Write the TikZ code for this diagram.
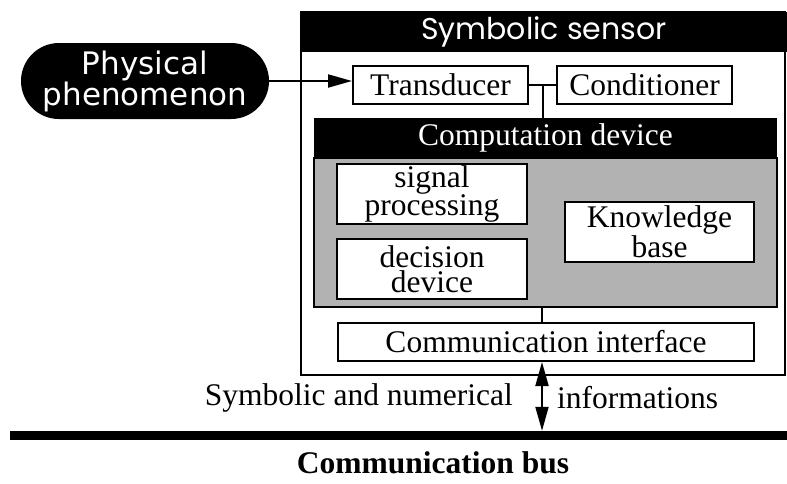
\documentclass[tikz,border=0pt]{standalone}
\usepackage{fontspec}
\setmainfont{Liberation Serif}
\newfontfamily\sensorfont{Poppins}
\newfontfamily\physfont{DejaVu Sans}
\usetikzlibrary{shapes.misc}
\usetikzlibrary{arrows.meta}
\definecolor{panelgray}{gray}{0.70}
\tikzstyle{unit}=[draw, line width=2pt, fill=white, inner sep=0pt, align=center, font=\fontsize{31.5}{25}\selectfont]
\tikzstyle{wideunit}=[unit, minimum width=175pt, minimum height=38pt]
\tikzstyle{blockunit}=[unit, minimum width=190pt, minimum height=60pt]
\tikzstyle{banner}=[fill=black, text=white, inner sep=0pt]
\tikzstyle{label}=[inner sep=0pt, font=\fontsize{31.5}{34}\selectfont]
\tikzstyle{wire}=[line width=2pt]

\begin{document}
\begin{tikzpicture}[x=1pt, y=-1pt, >={Triangle[length=24pt, width=13pt]}]
        \useasboundingbox (0, 0) rectangle (787, 483);
        % symbolic sensor
        \draw[wire] (301, 12) rectangle (785, 375);
        \node[banner, minimum width=486pt, minimum height=40pt, font=\sensorfont\fontsize{30}{30}\selectfont] (sensor) at (544, 32) {Symbolic sensor};
        \node[rounded rectangle, fill=black, text=white, inner sep=0pt, minimum width=248pt, minimum height=76pt, align=center, font=\physfont\fontsize{31}{30}\selectfont] (phys) at (145, 81) {Physical\\phenomenon};
        \node[wideunit] (trans) at (440.5, 85) {Transducer};
        \node[wideunit] (cond) at (644.5, 85) {Conditioner};
        % computation device
        \node[draw, line width=2pt, fill=panelgray, minimum width=463pt, minimum height=149pt] (compbody) at (545.5, 232.5) {};
        \node[banner, minimum width=463pt, minimum height=40pt, font=\fontsize{31.5}{34}\selectfont] (compdev) at (545.5, 138) {Computation device};
        \node[blockunit] (sigproc) at (432, 194) {signal\\processing};
        \node[blockunit] (decision) at (432, 269) {decision\\device};
        \node[blockunit, minimum width=189pt] (knowledge) at (659.5, 232) {Knowledge\\base};
        \node[unit, minimum width=416pt, minimum height=38pt] (comint) at (546, 342) {Communication interface};
        % bus
        \node[fill=black, inner sep=0pt, minimum width=777pt, minimum height=9pt] (bus) at (398.5, 435.5) {};
        \node[label, anchor=east] (symlabel) at (513, 398) {Symbolic and numerical};
        \node[label, anchor=west] (infolabel) at (557, 398) {informations};
        \node[label, font=\bfseries\fontsize{31.5}{34}\selectfont] (buslabel) at (433, 463) {Communication bus};
        % connectors
        \draw[wire, ->] (phys.east) -- (phys.east -| trans.west);
        \draw[wire] (trans.east) -- (cond.west);
        \draw[wire] ([xshift=-2.5pt]compdev.north) -- ([xshift=-2.5pt]compdev.north |- cond.west);
        \draw[wire] ([xshift=-4pt]comint.north) -- ([xshift=-4pt]comint.north |- compbody.south);
        \draw[wire, <->] ([xshift=-4pt]comint.south) -- ([xshift=-4pt]comint.south |- bus.north);
    \end{tikzpicture}
\end{document}
